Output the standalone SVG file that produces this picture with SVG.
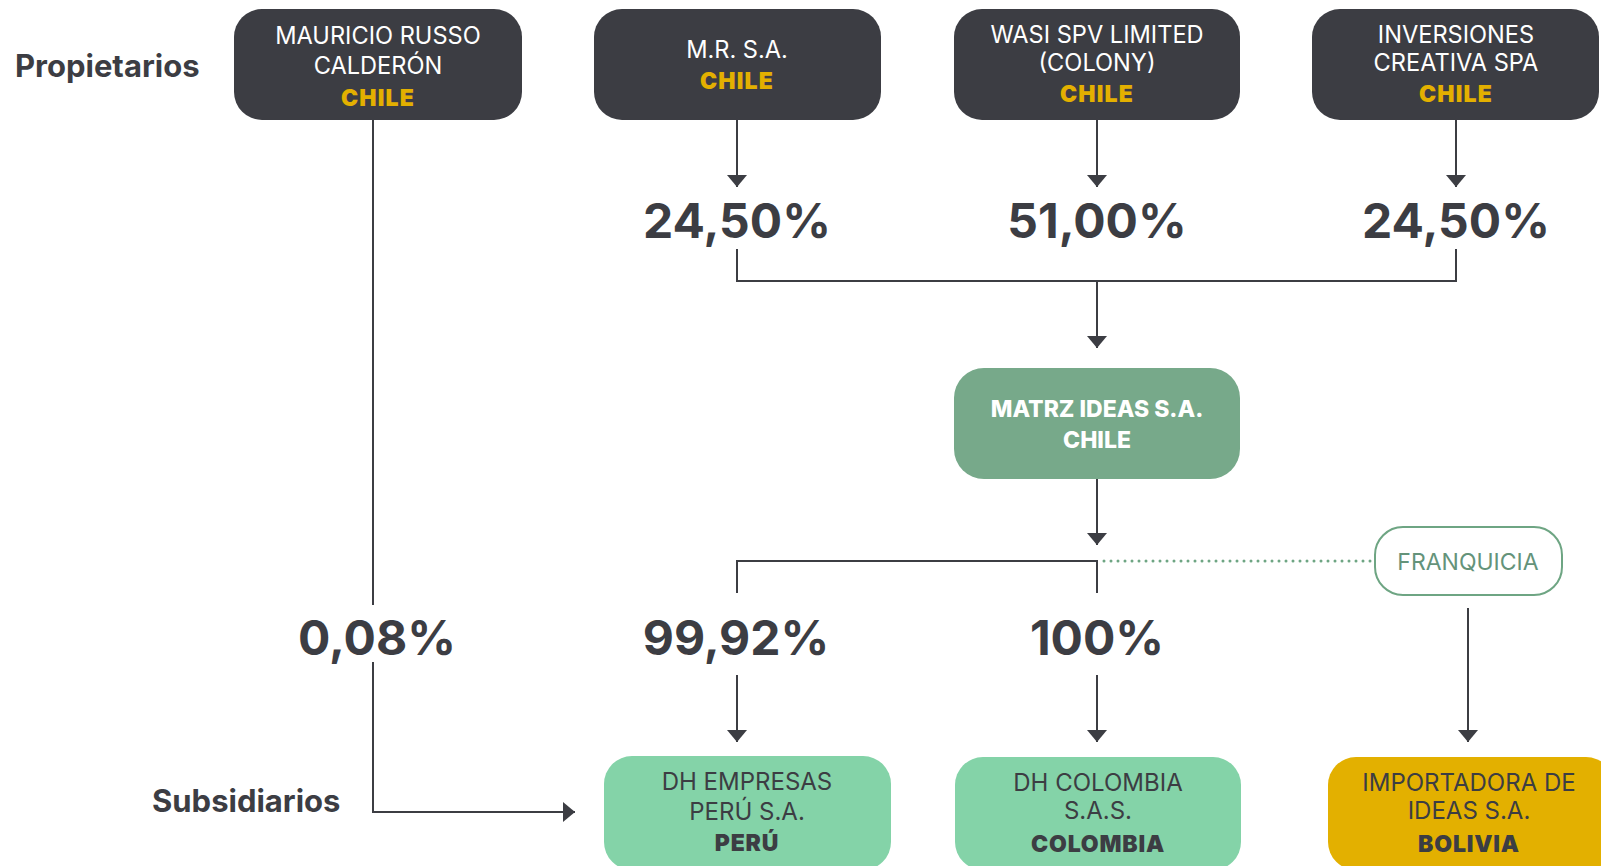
<svg xmlns="http://www.w3.org/2000/svg" width="1601" height="866" viewBox="0 0 1601 866">
<defs>
<style>
.t{font-family:Inter,Roboto,"Liberation Sans",sans-serif;}
.dark{fill:#3c3d43;}
.nw{fill:#ffffff;font-size:23.6px;text-anchor:middle;}
.cy{fill:#e3b000;font-size:23px;font-weight:900;text-anchor:middle;letter-spacing:1.2px;}
.cw{fill:#ffffff;font-size:23px;font-weight:800;text-anchor:middle;}
.nd{fill:#3c3d43;font-size:24px;text-anchor:middle;}
.cd{fill:#3c3d43;font-size:23px;font-weight:900;text-anchor:middle;letter-spacing:0.8px;}
.pct{fill:#3c3d43;font-size:48px;font-weight:700;text-anchor:middle;}
.lbl{fill:#3c3d43;font-size:31px;font-weight:700;}
.ln{fill:none;stroke:#3c3d43;stroke-width:2;}
.dot{fill:none;stroke:#6ea583;stroke-width:3;stroke-linecap:round;stroke-dasharray:0 7;}
</style>
<marker id="ah" markerWidth="20" markerHeight="12" viewBox="0 0 20 12" refX="10" refY="12" orient="0" markerUnits="userSpaceOnUse">
<path d="M0,0 L20,0 L10,12 Z" fill="#3c3d43"/>
</marker>
<marker id="ahr" markerWidth="12" markerHeight="20" viewBox="0 0 12 20" refX="12" refY="10" orient="0" markerUnits="userSpaceOnUse">
<path d="M0,0 L12,10 L0,20 Z" fill="#3c3d43"/>
</marker>
</defs>
<rect width="1601" height="866" fill="#ffffff"/>

<text class="t lbl" x="15" y="77">Propietarios</text>
<text class="t lbl" x="152" y="812">Subsidiarios</text>

<g id="connectors">
<path class="ln" d="M373,120 V605"/>
<path class="ln" d="M373,662 V812 H575" marker-end="url(#ahr)"/>
<path class="ln" d="M737,120 V187" marker-end="url(#ah)"/>
<path class="ln" d="M1097,120 V187" marker-end="url(#ah)"/>
<path class="ln" d="M1456,120 V187" marker-end="url(#ah)"/>
<path class="ln" d="M737,249 V281 H1456 V249"/>
<path class="ln" d="M1097,281 V348" marker-end="url(#ah)"/>
<path class="ln" d="M1097,479 V545" marker-end="url(#ah)"/>
<path class="ln" d="M737,593 V561 H1097 V593"/>
<path class="dot" d="M1104,561 H1372"/>
<path class="ln" d="M737,675 V742" marker-end="url(#ah)"/>
<path class="ln" d="M1097,675 V742" marker-end="url(#ah)"/>
<path class="ln" d="M1468,608 V742" marker-end="url(#ah)"/>
</g>

<g id="pct-labels">
<text class="t pct" x="737" y="238">24,50%</text>
<text class="t pct" x="1097" y="238">51,00%</text>
<text class="t pct" x="1456" y="238">24,50%</text>
<text class="t pct" x="377" y="655">0,08%</text>
<text class="t pct" x="736" y="655">99,92%</text>
<text class="t pct" x="1097" y="655">100%</text>
</g>

<g id="mauricio">
<rect class="dark" x="234" y="9" width="288" height="111" rx="28"/>
<text class="t nw" x="378" y="44">MAURICIO RUSSO</text>
<text class="t nw" x="378" y="74">CALDERÓN</text>
<text class="t cy" x="378" y="106">CHILE</text>
</g>
<g id="mrsa">
<rect class="dark" x="594" y="9" width="287" height="111" rx="28"/>
<text class="t nw" x="737" y="58">M.R. S.A.</text>
<text class="t cy" x="737" y="89">CHILE</text>
</g>
<g id="wasi">
<rect class="dark" x="954" y="9" width="286" height="111" rx="28"/>
<text class="t nw" x="1097" y="43">WASI SPV LIMITED</text>
<text class="t nw" x="1097" y="71">(COLONY)</text>
<text class="t cy" x="1097" y="102">CHILE</text>
</g>
<g id="inversiones">
<rect class="dark" x="1312" y="9" width="287" height="111" rx="28"/>
<text class="t nw" x="1456" y="43">INVERSIONES</text>
<text class="t nw" x="1456" y="71">CREATIVA SPA</text>
<text class="t cy" x="1456" y="102">CHILE</text>
</g>
<g id="matrz">
<rect x="954" y="368" width="286" height="111" rx="30" fill="#77a98a"/>
<text class="t cw" x="1097" y="417">MATRZ IDEAS S.A.</text>
<text class="t cw" x="1097" y="448">CHILE</text>
</g>
<g id="franquicia">
<rect x="1375" y="527" width="187" height="68" rx="28" fill="#ffffff" stroke="#6ea583" stroke-width="2"/>
<text class="t" x="1468" y="570" font-size="23" fill="#64937a" text-anchor="middle">FRANQUICIA</text>
</g>
<g id="dh-peru">
<rect x="604" y="756" width="287" height="114" rx="28" fill="#84d3a8"/>
<text class="t nd" x="747" y="790">DH EMPRESAS</text>
<text class="t nd" x="747" y="820">PERÚ S.A.</text>
<text class="t cd" x="747" y="851">PERÚ</text>
</g>
<g id="dh-colombia">
<rect x="955" y="757" width="286" height="113" rx="28" fill="#84d3a8"/>
<text class="t nd" x="1098" y="791">DH COLOMBIA</text>
<text class="t nd" x="1098" y="819">S.A.S.</text>
<text class="t cd" x="1098" y="852">COLOMBIA</text>
</g>
<g id="importadora">
<rect x="1328" y="757" width="286" height="113" rx="28" fill="#e3b000"/>
<text class="t nd" x="1469" y="791">IMPORTADORA DE</text>
<text class="t nd" x="1469" y="819">IDEAS S.A.</text>
<text class="t cd" x="1469" y="852">BOLIVIA</text>
</g>
</svg>
